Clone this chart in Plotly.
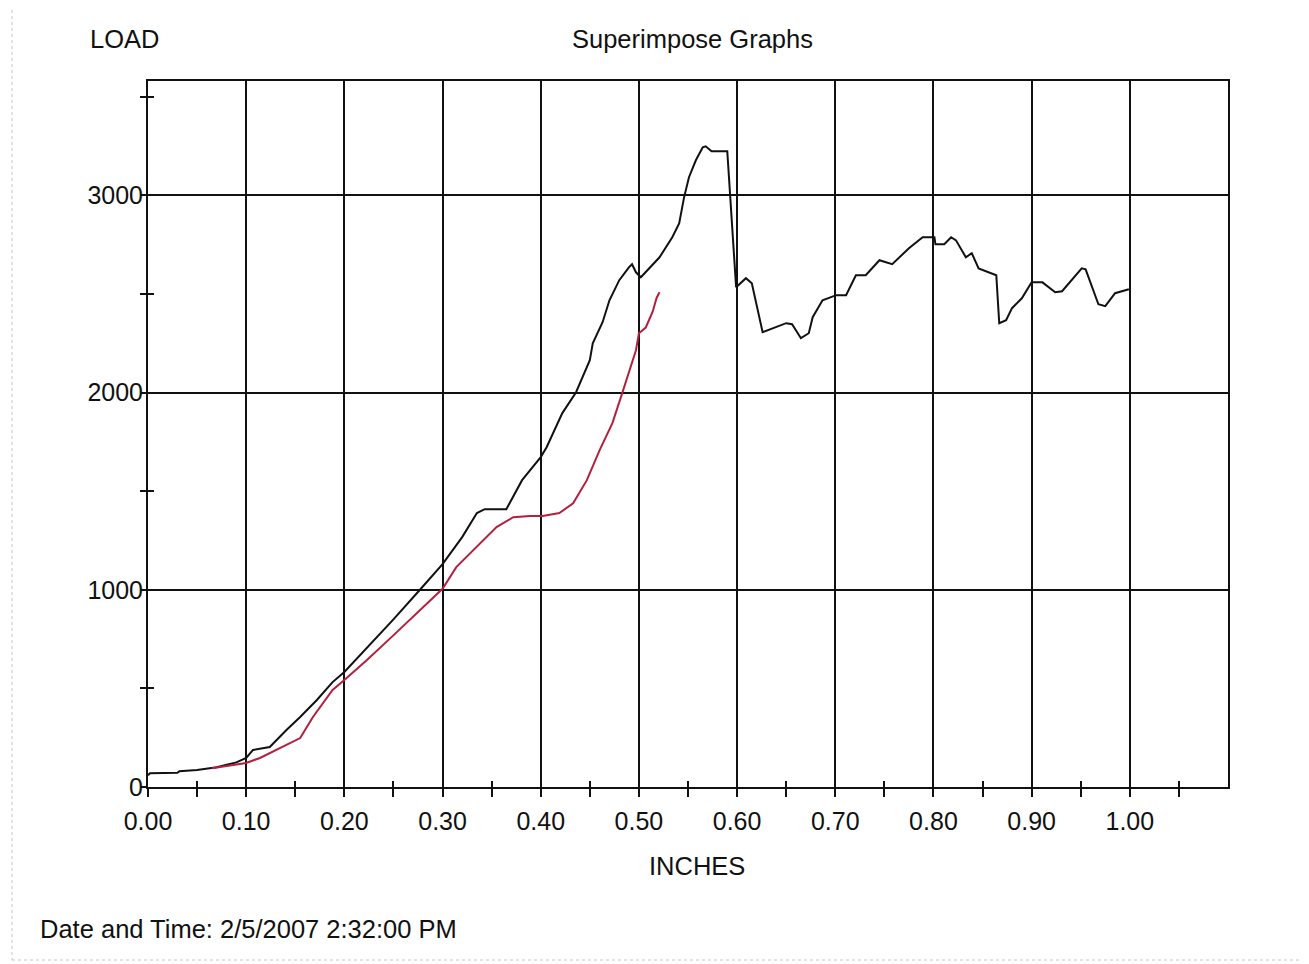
import plotly.graph_objects as go

# ---- data ----
black_x = [0.000, 0.002, 0.030, 0.032, 0.050, 0.070, 0.090, 0.100, 0.107, 0.124,
           0.141, 0.155, 0.172, 0.188, 0.200, 0.219, 0.250, 0.277, 0.300, 0.320,
           0.335, 0.343, 0.365, 0.381, 0.400, 0.406, 0.422, 0.436, 0.450, 0.453,
           0.463, 0.470, 0.480, 0.490, 0.493, 0.497, 0.502, 0.521, 0.534, 0.541,
           0.546, 0.551, 0.558, 0.565, 0.568, 0.574, 0.590, 0.599, 0.609, 0.615,
           0.626, 0.650, 0.656, 0.665, 0.673, 0.677, 0.687, 0.701, 0.711, 0.721,
           0.731, 0.745, 0.758, 0.775, 0.789, 0.801, 0.802, 0.811, 0.818, 0.823,
           0.833, 0.839, 0.846, 0.864, 0.867, 0.874, 0.880, 0.890, 0.900, 0.911,
           0.924, 0.931, 0.951, 0.955, 0.968, 0.975, 0.985, 0.999]
black_y = [60, 70, 72, 80, 86, 100, 125, 147, 188, 203,
           289, 355, 441, 532, 583, 684, 850, 1000, 1130, 1267,
           1389, 1409, 1409, 1556, 1673, 1723, 1896, 2002, 2164, 2250,
           2357, 2468, 2570, 2636, 2651, 2610, 2585, 2686, 2788, 2858,
           2990, 3092, 3178, 3244, 3249, 3224, 3224, 2534, 2580, 2554,
           2306, 2352, 2347, 2276, 2301, 2382, 2468, 2494, 2494, 2595,
           2595, 2671, 2651, 2732, 2788, 2788, 2752, 2752, 2788, 2772,
           2686, 2707, 2630, 2595, 2352, 2367, 2428, 2478, 2559, 2559,
           2509, 2514, 2630, 2625, 2448, 2438, 2504, 2524]

red_x = [0.065, 0.080, 0.100, 0.114, 0.134, 0.155, 0.168, 0.188, 0.200, 0.223,
         0.248, 0.270, 0.300, 0.314, 0.338, 0.355, 0.372, 0.389, 0.402, 0.419,
         0.433, 0.447, 0.460, 0.473, 0.483, 0.497, 0.500, 0.507, 0.514, 0.518,
         0.521]
red_y = [95, 105, 122, 147, 198, 248, 355, 492, 542, 644,
         760, 862, 1005, 1115, 1237, 1318, 1368, 1374, 1374, 1389,
         1439, 1556, 1708, 1845, 1997, 2215, 2301, 2330, 2410, 2480,
         2509]

x_tickvals = [0.0, 0.1, 0.2, 0.3, 0.4, 0.5, 0.6, 0.7, 0.8, 0.9, 1.0]
x_ticktext = ["0.00", "0.10", "0.20", "0.30", "0.40", "0.50", "0.60", "0.70", "0.80", "0.90", "1.00"]
x_minor = [0.05, 0.15, 0.25, 0.35, 0.45, 0.55, 0.65, 0.75, 0.85, 0.95, 1.05]
y_tickvals = [0, 1000, 2000, 3000]
y_ticktext = ["0", "1000", "2000", "3000"]
y_minor = [500, 1500, 2500, 3500]
x_range = [0, 1.1]
y_range = [0, 3580]

FONT = "Liberation Sans, Arial, sans-serif"
RED = "#b3203f"
INK = "#111111"

fig = go.Figure()
fig.add_trace(go.Scatter(x=black_x, y=black_y, mode="lines",
                         line=dict(color=INK, width=2), showlegend=False))
fig.add_trace(go.Scatter(x=red_x, y=red_y, mode="lines",
                         line=dict(color=RED, width=2), showlegend=False))
# invisible trace to activate overlay axes (inner halves of crossing ticks)
fig.add_trace(go.Scatter(x=[None], y=[None], xaxis="x2", yaxis="y2",
                         mode="lines", showlegend=False, hoverinfo="skip"))

fig.update_layout(
    width=1301, height=956,
    margin=dict(l=140, r=81, t=73, b=177),
    paper_bgcolor="white", plot_bgcolor="white",
    font=dict(family=FONT, color=INK, size=25),
    xaxis=dict(range=x_range, tickmode="array", tickvals=x_tickvals, ticktext=x_ticktext,
               showgrid=True, gridcolor=INK, gridwidth=2,
               showline=True, linecolor=INK, linewidth=2, mirror=True,
               ticks="outside", ticklen=8, tickwidth=2, tickcolor=INK,
               minor=dict(tickmode="array", tickvals=x_minor, ticks="outside",
                          ticklen=8, tickwidth=2, tickcolor=INK, showgrid=False),
               zeroline=False, tickfont=dict(size=25, family=FONT), ticklabelstandoff=3),
    yaxis=dict(range=y_range, tickmode="array", tickvals=y_tickvals, ticktext=y_ticktext,
               showgrid=True, gridcolor=INK, gridwidth=2,
               showline=True, linecolor=INK, linewidth=2, mirror=True,
               ticks="outside", ticklen=5, tickwidth=2, tickcolor=INK,
               minor=dict(tickmode="array", tickvals=y_minor, ticks="outside",
                          ticklen=6, tickwidth=2, tickcolor=INK, showgrid=False),
               zeroline=False, tickfont=dict(size=25, family=FONT), ticklabelstandoff=-7),
    xaxis2=dict(range=x_range, overlaying="x", side="bottom", showgrid=False,
                showline=False, showticklabels=False, zeroline=False,
                tickmode="array", tickvals=x_minor, ticks="inside", ticklen=6,
                tickwidth=2, tickcolor=INK),
    yaxis2=dict(range=y_range, overlaying="y", side="left", showgrid=False,
                showline=False, showticklabels=False, zeroline=False,
                tickmode="array", tickvals=y_minor, ticks="inside", ticklen=6,
                tickwidth=2, tickcolor=INK),
)

annotations = [
    dict(text="LOAD", x=(88 - 148) / 1080, y=(787 - 39) / 706, xanchor="left", yanchor="middle"),
    dict(text="Superimpose Graphs", x=(692 - 148) / 1080, y=(787 - 39) / 706, xanchor="center", yanchor="middle"),
    dict(text="INCHES", x=(697 - 148) / 1080, y=(787 - 866) / 706, xanchor="center", yanchor="middle"),
    dict(text="Date and Time: 2/5/2007 2:32:00 PM", x=(38 - 148) / 1080, y=(787 - 929) / 706,
         xanchor="left", yanchor="middle"),
]
for a in annotations:
    fig.add_annotation(xref="paper", yref="paper", showarrow=False,
                       font=dict(family=FONT, size=25.5, color=INK), **a)

# faint dotted scan border around the page
fig.add_shape(type="rect", xref="paper", yref="paper",
              x0=(12 - 148) / 1080, x1=(1303 - 148) / 1080,
              y0=(787 - 960) / 706, y1=(787 - 6) / 706,
              line=dict(color="#c8c8d0", width=1, dash="dot"), layer="below")

fig.write_html("out.html")
